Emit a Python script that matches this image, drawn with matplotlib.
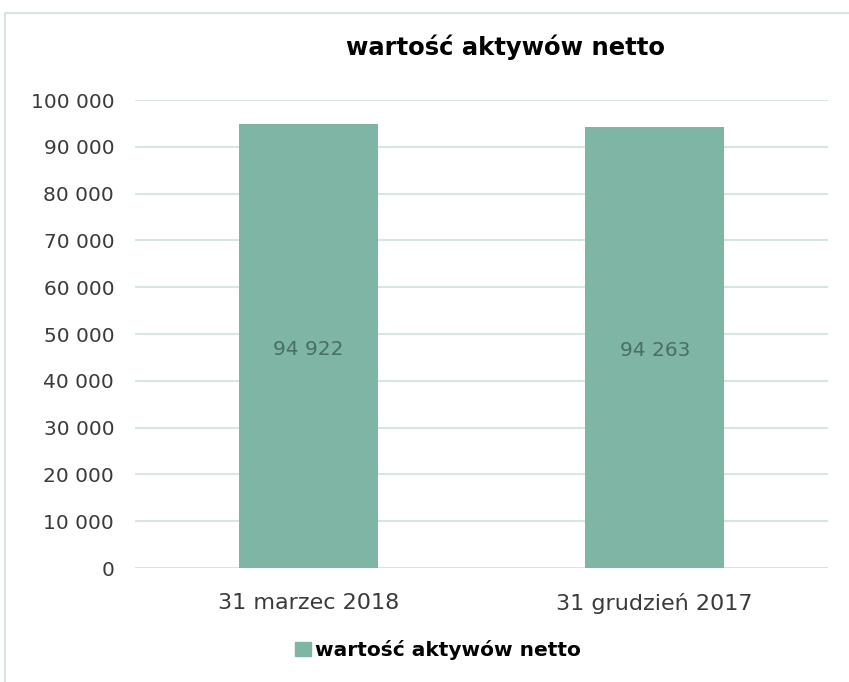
import matplotlib
matplotlib.use("Agg")
import matplotlib.pyplot as plt
from matplotlib.patches import Rectangle, Patch
from matplotlib.ticker import FuncFormatter

categories = ["31 marzec 2018", "31 grudzień 2017"]
values = [94922, 94263]
series_name = "wartość aktywów netto"
title = "wartość aktywów netto"

W, H = 849, 682
fig = plt.figure(figsize=(W / 100, H / 100), dpi=100)
plt.rcParams['font.family'] = ['DejaVu Sans']

grid_c = "#d5e7e0"
bar_c = "#7fb5a4"
text_c = "#3a3a3a"

# chart border (extends past right and bottom)
fig.patches.append(Rectangle((5 / W, -0.1), 1.2, 1 - 13 / H + 0.1, transform=fig.transFigure,
                             fill=False, edgecolor=grid_c, linewidth=1.5))

ax = fig.add_axes([135 / W, 1 - 568 / H, (828 - 135) / W, (568 - 100) / H])
x = list(range(len(categories)))
bars = ax.bar(x, values, width=0.4, color=bar_c, zorder=3)
ax.set_xlim(-0.5, 1.5)
ax.set_ylim(0, 100000)
ax.set_yticks(range(0, 100001, 10000))
fmt = lambda v, p: f"{int(v):,}".replace(",", " ")
ax.yaxis.set_major_formatter(FuncFormatter(fmt))
ax.set_xticks(x)
ax.set_xticklabels(categories)
ax.grid(axis="y", color=grid_c, linewidth=1.5, zorder=0)
for s in ax.spines.values():
    s.set_visible(False)
ax.tick_params(axis="both", length=0, labelcolor=text_c)
ax.tick_params(axis="y", pad=15, labelsize=14.5)
ax.tick_params(axis="x", pad=18, labelsize=16)

for b, v in zip(bars, values):
    ax.text(b.get_x() + b.get_width() / 2, v / 2 - 700, fmt(v, None), ha="center", va="center",
            fontsize=14.5, color="#4a6e62")

fig.text(505 / W, 1 - 47 / H, title, ha="center", va="center", fontsize=17.5,
         fontweight="bold", color="black")

fig.legend(handles=[Patch(color=bar_c, label=series_name)], loc="center",
           bbox_to_anchor=(438 / W, 1 - 650 / H), frameon=False, handlelength=0.75,
           handleheight=0.75, handletextpad=0.2,
           prop={"size": 14.5, "weight": "bold"})

fig.savefig("out.png", dpi=100)
